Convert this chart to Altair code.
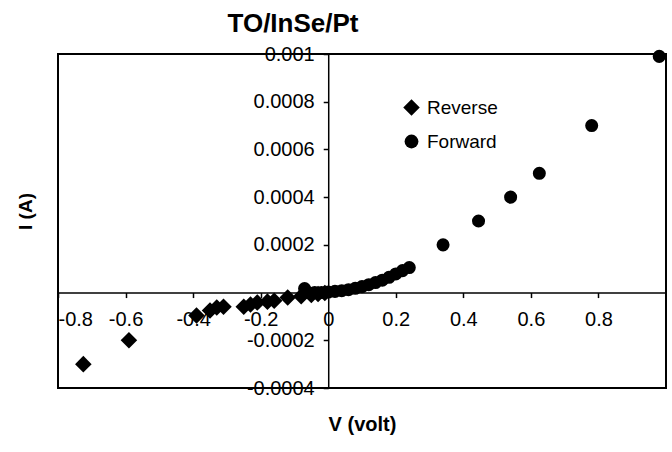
import altair as alt
import pandas as pd

# Reverse-bias points (diamonds)
rev_v = [-0.725, -0.59, -0.39, -0.35, -0.33, -0.31, -0.25, -0.23, -0.21, -0.18, -0.16,
         -0.12, -0.08, -0.05, -0.03, -0.01]
rev_i = [-0.0003, -0.0002, -0.000096, -0.000075, -0.000063, -0.000059, -0.000059, -0.00005,
         -0.000042, -0.000038, -0.000034, -0.000021, -0.000015, -0.00001, -0.000006, -0.000002]

# Forward-bias points (circles)
fwd_v = [-0.07, -0.06, -0.04, -0.02, 0.0, 0.02, 0.04, 0.06, 0.08, 0.10, 0.12, 0.14, 0.16,
         0.18, 0.20, 0.22, 0.24, 0.34, 0.445, 0.54, 0.625, 0.78, 0.98]
fwd_i = [0.000017, 0.0, 0.0, 0.0, 0.000002, 0.000005, 0.000008, 0.000012, 0.000018, 0.000025,
         0.000033, 0.000042, 0.000052, 0.000064, 0.000078, 0.000092, 0.000105,
         0.0002, 0.0003, 0.0004, 0.0005, 0.0007, 0.00099]

x_ticks = [-0.8, -0.6, -0.4, -0.2, 0.0, 0.2, 0.4, 0.6, 0.8]
y_ticks = [-0.0004, -0.0002, 0.0, 0.0002, 0.0004, 0.0006, 0.0008, 0.001]
series_names = ["Reverse", "Forward"]

df_rev = pd.DataFrame({"V": rev_v, "I": rev_i, "series": "Reverse"})
df_fwd = pd.DataFrame({"V": fwd_v, "I": fwd_i, "series": "Forward"})

W, H = 608, 334
x_off = -(W * 0.8 / 1.8)
y_off = -(H * 0.0004 / 0.0014)

FONT = "Liberation Sans"
BIG_DIAMOND = "M0,-1.2L1.2,0L0,1.2L-1.2,0Z"

x_enc = alt.X("V:Q", scale=alt.Scale(domain=[-0.8, 1.0], nice=False, zero=False),
              axis=alt.Axis(title="V (volt)", values=x_ticks, offset=y_off, grid=False,
                            labelExpr="replace(format(datum.value, '.1~f'), '\u2212', '-')",
                            labelFontSize=20, labelPadding=12, tickSize=5,
                            titleFontSize=20, titleFontWeight="bold",
                            titleY=132, titleBaseline="middle", titleX=W / 2))
y_enc = alt.Y("I:Q", scale=alt.Scale(domain=[-0.0004, 0.001], nice=False, zero=False),
              axis=alt.Axis(title="I (A)", values=y_ticks, offset=x_off, grid=False,
                            labelExpr="datum.value == 0 ? '' : replace(format(datum.value, '.4~f'), '\u2212', '-')",
                            labelFontSize=20, labelPadding=9, tickSize=5,
                            titleFontSize=19, titleFontWeight="bold",
                            titleX=x_off + 25 - 58, titleY=157, titleBaseline="middle",
                            titleAngle=270))
shape_enc = alt.Shape("series:N", scale=alt.Scale(domain=series_names, range=[BIG_DIAMOND, "circle"]),
                      legend=alt.Legend(title=None, orient="none", legendX=344, legendY=44,
                                        labelFontSize=19, symbolSize=190, symbolFillColor="black",
                                        symbolStrokeColor="black", labelOffset=6, rowPadding=12,
                                        labelFont=FONT, labelColor="black"))

rev_layer = alt.Chart(df_rev).mark_point(filled=True, opacity=1, color="black", size=190).encode(
    x=x_enc, y=y_enc, shape=shape_enc)
fwd_layer = alt.Chart(df_fwd).mark_point(filled=True, opacity=1, color="black", size=170).encode(
    x=x_enc, y=y_enc, shape=shape_enc)

chart = alt.layer(rev_layer, fwd_layer).properties(
    width=W, height=H,
    title=alt.Title("TO/InSe/Pt", fontSize=26, fontWeight="bold", font=FONT, color="black",
                    anchor="middle", frame="group", dx=-69, dy=25, offset=11, baseline="alphabetic"),
    autosize=alt.AutoSizeParams(type="none"),
    padding={"left": 58, "top": 54, "right": 6, "bottom": 64},
    background="white",
).configure_view(
    stroke="black", strokeWidth=2
).configure_axis(
    domainColor="black", domainWidth=1.5, tickColor="black", tickWidth=1.5,
    labelColor="black", titleColor="black", grid=False,
    labelFont=FONT, titleFont=FONT
)

chart.save("out.html", embed_options={"renderer": "svg", "actions": False})
